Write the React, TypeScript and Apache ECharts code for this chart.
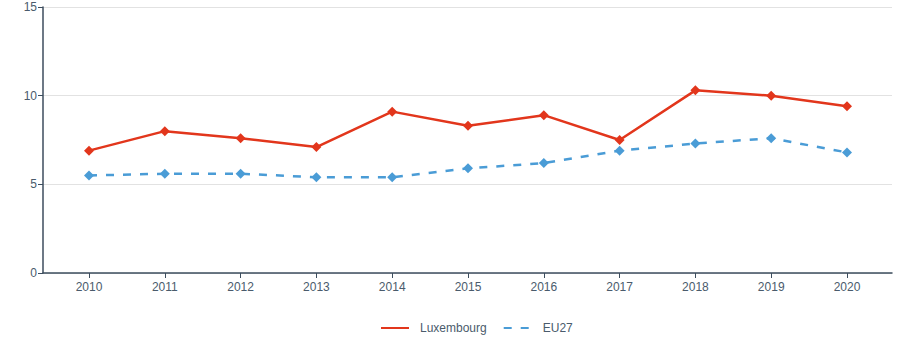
import React, { useEffect, useRef } from "react";
import * as echarts from "echarts";

const years = ["2010", "2011", "2012", "2013", "2014", "2015", "2016", "2017", "2018", "2019", "2020"];
const luxembourg = [6.9, 8.0, 7.6, 7.1, 9.1, 8.3, 8.9, 7.5, 10.3, 10.0, 9.4];
const eu27 = [5.5, 5.6, 5.6, 5.4, 5.4, 5.9, 6.2, 6.9, 7.3, 7.6, 6.8];
const seriesNames = ["Luxembourg", "EU27"];

const RED = "#e2361c";
const BLUE = "#4a9cd6";
const AXIS = "#3c4d5e";
const TEXT = "#4a5b6c";
const FONT = "Liberation Sans, Arial, sans-serif";

export default function App() {
  const ref = useRef<HTMLDivElement>(null);
  useEffect(() => {
    document.body.style.margin = "0";
    const chart = echarts.init(ref.current!, null, { renderer: "svg" });
    const top = 7;
    const bottom = 87;
    chart.setOption({
      animation: false,
      backgroundColor: "#ffffff",
      textStyle: { fontFamily: FONT },
      grid: [
        { left: 43, right: 8, top, bottom },
        { left: 89, right: 53, top, bottom },
      ],
      legend: {
        data: seriesNames,
        left: 375,
        top: 317,
        itemWidth: 28,
        itemHeight: 12,
        itemGap: 16,
        itemStyle: { opacity: 0 },
        textStyle: { color: TEXT, fontSize: 12, fontFamily: FONT, padding: [0, 0, 0, 6] },
      },
      xAxis: [
        {
          type: "value",
          gridIndex: 0,
          min: 0,
          max: 1,
          axisLine: { show: true, lineStyle: { color: AXIS, width: 1.5 } },
          axisTick: { show: false },
          axisLabel: { show: false },
          splitLine: { show: false },
        },
        {
          type: "category",
          gridIndex: 1,
          data: years,
          boundaryGap: false,
          axisLine: { show: false },
          axisTick: { show: true, length: 5, lineStyle: { color: AXIS } },
          axisLabel: { color: TEXT, fontSize: 12, margin: 8, fontFamily: FONT },
          splitLine: { show: false },
        },
      ],
      yAxis: [
        {
          type: "value",
          gridIndex: 0,
          min: 0,
          max: 15,
          interval: 5,
          axisLine: { show: true, lineStyle: { color: AXIS, width: 1.5 } },
          axisTick: { show: true, length: 5, lineStyle: { color: AXIS } },
          axisLabel: { color: TEXT, fontSize: 12, margin: 6, fontFamily: FONT },
          splitLine: { show: true, lineStyle: { color: "#e2e2e2", width: 1 } },
        },
        {
          type: "value",
          gridIndex: 1,
          min: 0,
          max: 15,
          interval: 5,
          show: false,
          splitLine: { show: false },
        },
      ],
      series: [
        {
          name: seriesNames[0],
          type: "line",
          xAxisIndex: 1,
          yAxisIndex: 1,
          data: luxembourg,
          symbol: "diamond",
          symbolSize: 10,
          itemStyle: { color: RED },
          lineStyle: { color: RED, width: 2.5 },
          z: 3,
        },
        {
          name: seriesNames[1],
          type: "line",
          xAxisIndex: 1,
          yAxisIndex: 1,
          data: eu27,
          symbol: "diamond",
          symbolSize: 10,
          itemStyle: { color: BLUE },
          lineStyle: { color: BLUE, width: 2.5, type: [8, 9] },
          z: 2,
        },
      ],
    });
    return () => chart.dispose();
  }, []);
  return <div ref={ref} style={{ width: 900, height: 360 }} />;
}
